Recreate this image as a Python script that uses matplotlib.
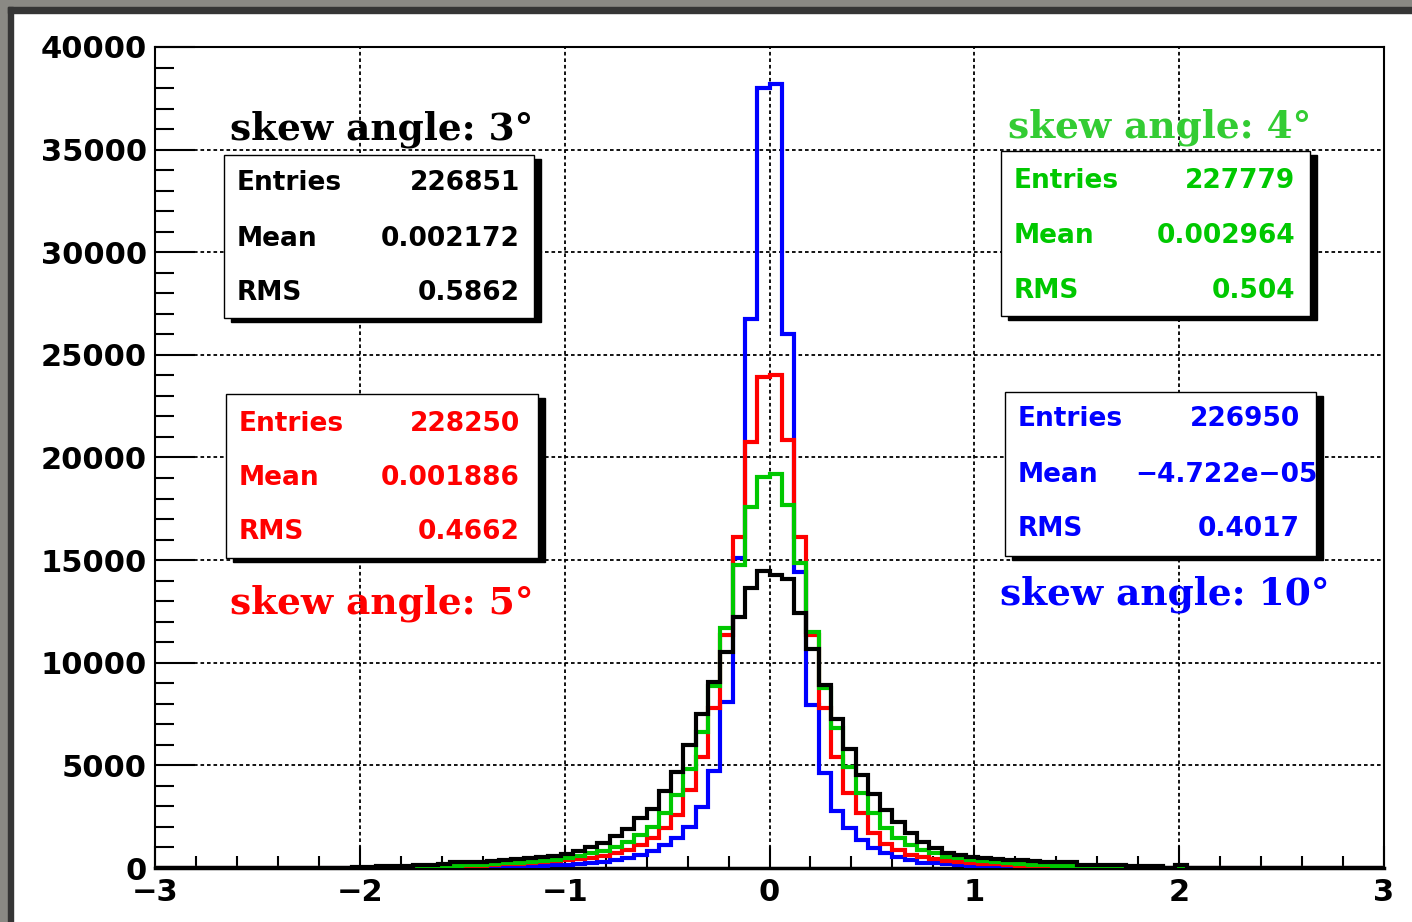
import numpy as np
import matplotlib.pyplot as plt
from matplotlib.patches import Rectangle
from matplotlib.ticker import MultipleLocator

bin_edges = np.linspace(-3, 3, 101)
first_bin = 15

cnt_3deg = [20, 40, 60, 80, 100, 120, 140, 160, 200, 280,
            300, 310, 330, 380, 420, 470, 530, 600, 680, 840,
            1010, 1230, 1560, 1880, 2420, 2860, 3760, 4690, 5990, 7500,
            9070, 10530, 12230, 13620,
            14470, 14260,
            14060, 12400, 10650, 8910, 7240, 5780, 4530, 3600, 2820, 2250,
            1690, 1280, 960, 750, 630, 520, 470, 430, 390, 370,
            350, 300, 290, 270, 170, 150, 140, 130, 120, 100,
            90, 20, 150, 20]

cnt_4deg = [14, 18, 22, 28, 35, 45, 55, 70, 90, 110,
            130, 160, 190, 220, 260, 300, 350, 400, 470, 580,
            720, 840, 1040, 1280, 1610, 2010, 2660, 3550, 4800, 6640,
            8860, 11670, 14750, 17590,
            19050, 19220,
            17670, 14850, 11500, 8750, 6800, 4930, 3640, 2690, 1930, 1450,
            1120, 880, 720, 550, 470, 390, 330, 280, 240, 200,
            170, 140, 120, 100, 80, 60, 50, 40, 35, 30,
            25, 20, 15, 15]

cnt_5deg = [8, 10, 14, 18, 24, 30, 38, 48, 60, 75,
            95, 120, 145, 175, 210, 250, 290, 340, 390, 440,
            500, 600, 720, 880, 1120, 1450, 1930, 2580, 3800, 5420,
            7780, 11340, 16130, 20750,
            23920, 24040,
            20840, 16130, 11340, 7780, 5420, 3670, 2690, 1690, 1170, 880,
            630, 520, 420, 360, 300, 250, 210, 180, 150, 120,
            100, 80, 65, 50, 40, 30, 25, 20, 15, 12,
            10, 8, 6, 5]

cnt_10deg = [1, 2, 3, 4, 5, 6, 8, 12, 16, 22,
             30, 40, 50, 65, 80, 100, 120, 145, 170, 200,
             260, 310, 390, 470, 630, 840, 1120, 1450, 2010, 2950,
             4740, 8100, 15080, 26740,
             38000, 38200,
             26000, 14430, 7940, 4610, 2790, 1930, 1360, 960, 720, 520,
             390, 260, 220, 180, 150, 120, 100, 80, 65, 50,
             40, 30, 25, 20, 15, 12, 10, 8, 6, 5,
             4, 3, 2, 1]

angles = ['3', '4', '5', '10']
colors = ['black', '#00c800', '#ff0000', '#0000ff']
label_colors = ['black', '#33cc33', '#ff0000', '#0000ff']
entries = ['226851', '227779', '228250', '226950']
means = ['0.002172', '0.002964', '0.001886', '\u22124.722e\u221205']
rms = ['0.5862', '0.504', '0.4662', '0.4017']

W, H = 1412, 922

def full(vals):
    c = np.zeros(len(bin_edges) - 1)
    c[first_bin:first_bin + len(vals)] = vals
    return c

def fx(x):
    return x / W

def fy(y):
    return 1 - y / H

plt.rcParams['font.family'] = ['DejaVu Sans']

fig = plt.figure(figsize=(W / 100, H / 100), dpi=100)
fig.patch.set_facecolor('white')

# marco de la captura
fig.patches.append(Rectangle((0, 0), fx(8), 1, transform=fig.transFigure, color='#8a8984', zorder=0))
fig.patches.append(Rectangle((0, fy(7)), 1, 1 - fy(7), transform=fig.transFigure, color='#8a8984', zorder=0))
fig.patches.append(Rectangle((fx(8), 0), fx(5), fy(7), transform=fig.transFigure, color='#353535', zorder=0))
fig.patches.append(Rectangle((fx(8), fy(13)), 1, fy(7) - fy(13), transform=fig.transFigure, color='#353535', zorder=0))

ax = fig.add_axes([fx(155), fy(868), fx(1384) - fx(155), fy(47) - fy(868)])
ax.set_xlim(-3, 3)
ax.set_ylim(0, 40000)

# orden de dibujo: azul, rojo, verde, negro (negro encima)
for vals, col in [(cnt_10deg, colors[3]), (cnt_5deg, colors[2]),
                  (cnt_4deg, colors[1]), (cnt_3deg, colors[0])]:
    ax.stairs(full(vals), bin_edges, color=col, lw=3, zorder=3)

ax.xaxis.set_major_locator(MultipleLocator(1))
ax.xaxis.set_minor_locator(MultipleLocator(0.2))
ax.yaxis.set_major_locator(MultipleLocator(5000))
ax.yaxis.set_minor_locator(MultipleLocator(1000))
ax.grid(True, which='major', color='black', lw=1.3, ls=(0, (2.0, 1.6)), zorder=1)
ax.tick_params(axis='x', which='major', direction='in', length=16, width=1.5,
               labelsize=22, pad=7, top=False)
ax.tick_params(axis='x', which='minor', direction='in', length=8.5, width=1.5, top=False)
ax.tick_params(axis='y', which='major', direction='in', length=29, width=1.5,
               labelsize=22, pad=6, right=False)
ax.tick_params(axis='y', which='minor', direction='in', length=14, width=1.5, right=False)
for lab in ax.get_xticklabels() + ax.get_yticklabels():
    lab.set_fontweight('bold')
for s in ['left', 'top', 'right']:
    ax.spines[s].set_linewidth(1.5)
ax.spines['bottom'].set_linewidth(2.5)

# cajas de estadisticas (left, top, right, bottom en pixeles)
boxes = [(224, 155, 534, 318), (1001, 151, 1310, 316),
         (226, 394, 538, 558), (1005, 392, 1316, 556)]
rows = [(183, 239, 293), (181, 236, 291), (424, 478, 532), (419, 475, 529)]
val_right = [520, 1295, 520, 1300]
for i, (l, t, r, b) in enumerate(boxes):
    fig.patches.append(Rectangle((fx(l + 7), fy(b + 4)), fx(r - l), fy(t + 4) - fy(b + 4),
                                 transform=fig.transFigure, color='black', zorder=5))
    fig.patches.append(Rectangle((fx(l), fy(b)), fx(r - l), fy(t) - fy(b),
                                 transform=fig.transFigure, facecolor='white',
                                 edgecolor='black', lw=1, zorder=6))
    for name, val, y in zip(['Entries', 'Mean', 'RMS'], [entries[i], means[i], rms[i]], rows[i]):
        fig.text(fx(l + 13), fy(y), name, color=colors[i], fontsize=19, fontweight='bold',
                 va='center', ha='left', zorder=7)
        xr = val_right[i]
        if val.startswith('\u2212'):
            xr = 1318
        fig.text(fx(xr), fy(y), val, color=colors[i], fontsize=19, fontweight='bold',
                 va='center', ha='right', zorder=7)

# etiquetas de angulo
label_pos = [(230, 139), (1008, 137), (230, 613), (1000, 604)]
for (x, y), a, col in zip(label_pos, angles, label_colors):
    fig.text(fx(x), fy(y), 'skew angle: ' + a + '\u00b0', color=col,
             fontsize=27, fontweight='bold', family='DejaVu Serif',
             va='baseline', ha='left', zorder=8)

fig.savefig('out.png', dpi=100)
